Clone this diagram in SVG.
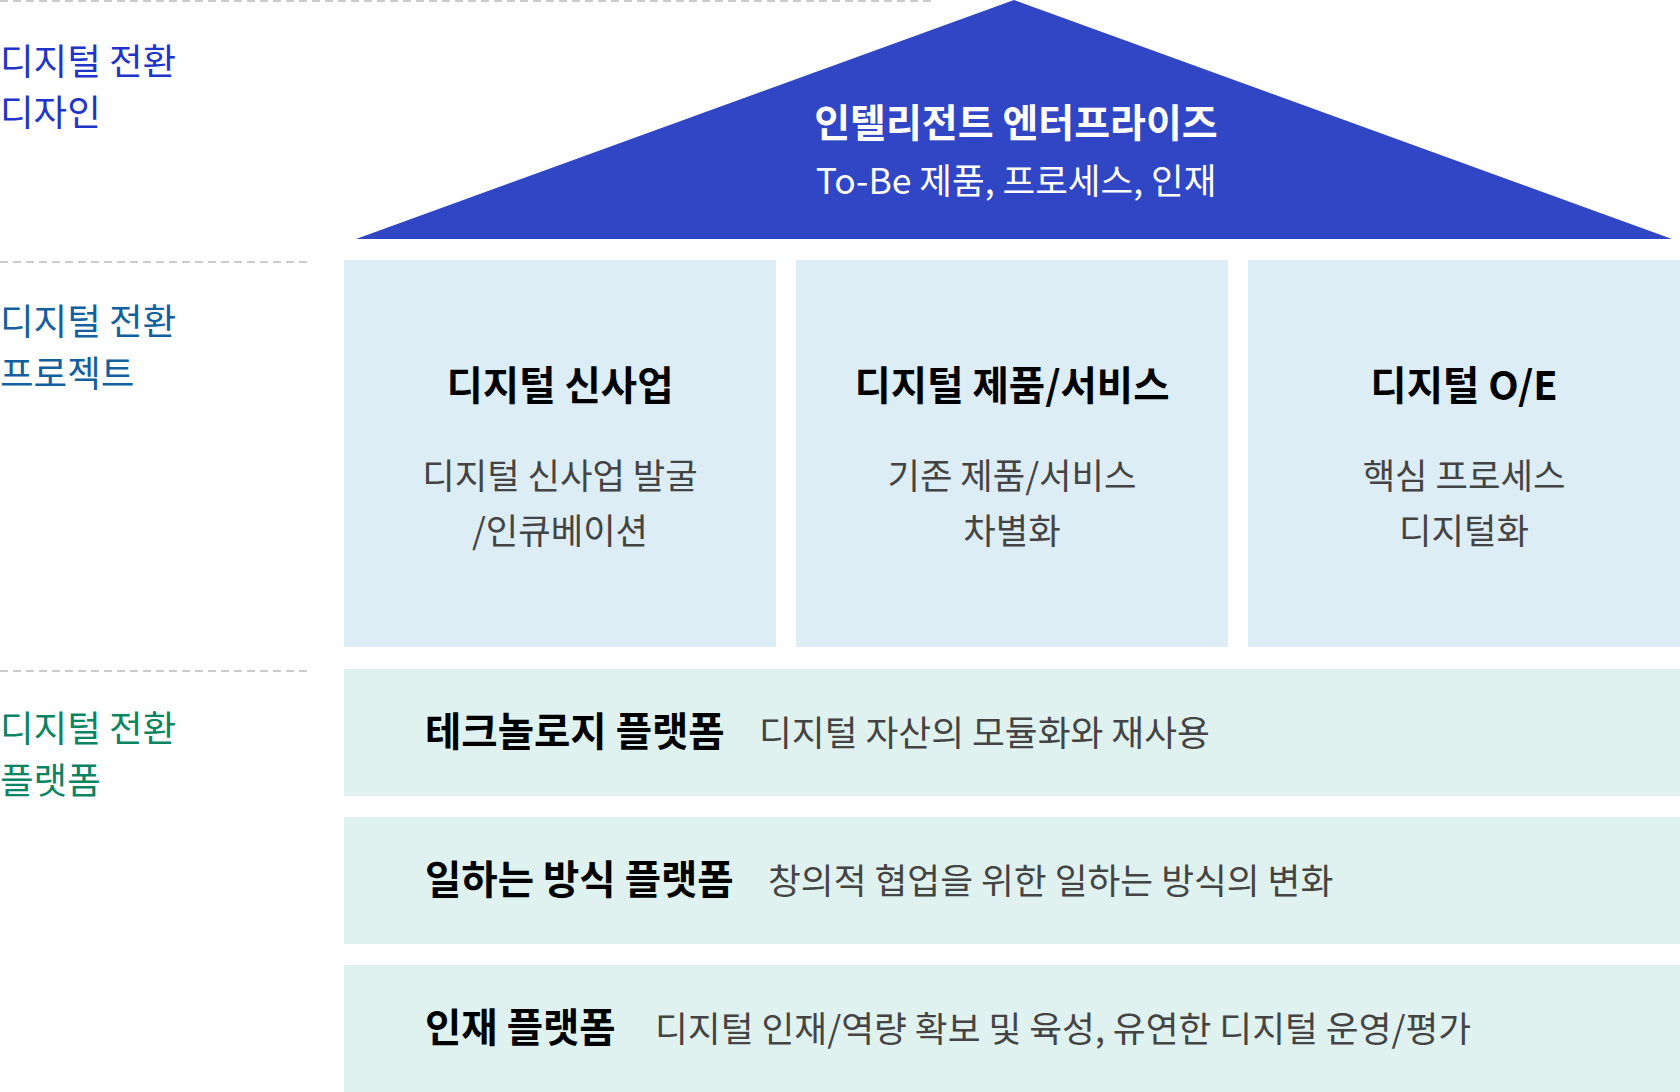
<svg xmlns="http://www.w3.org/2000/svg" width="1680" height="1092" viewBox="0 0 1680 1092">
<style>
text{font-family:"Noto Sans CJK KR","Noto Sans",sans-serif}
.dash{stroke:#cccccc;stroke-width:2;stroke-dasharray:8 5;fill:none}
.lbl{font-size:36.5px}
.l1{fill:#1f35c9}
.l2{fill:#13609e}
.l3{fill:#0b8463}
.box{fill:#ddedf6}
.row{fill:#e0f2ef}
.bt{font-size:39.5px;font-weight:700;fill:#000;text-anchor:middle}
.bs{font-size:35.3px;fill:#444;text-anchor:middle}
.rt{font-size:39.5px;font-weight:700;fill:#000}
.rs{font-size:35.7px;fill:#444}
</style>
<g id="guides">
<line class="dash" x1="0" y1="1" x2="932" y2="1"/>
<line class="dash" x1="0" y1="262" x2="308" y2="262"/>
<line class="dash" x1="0" y1="671" x2="308" y2="671"/>
</g>
<g id="label-design">
<text class="lbl l1" x="0" y="75">디지털 전환</text>
<text class="lbl l1" x="0" y="126">디자인</text>
</g>
<g id="label-project">
<text class="lbl l2" x="0" y="335">디지털 전환</text>
<text class="lbl l2" x="0" y="387">프로젝트</text>
</g>
<g id="label-platform">
<text class="lbl l3" x="0" y="742">디지털 전환</text>
<text class="lbl l3" x="0" y="794">플랫폼</text>
</g>
<g id="roof">
<polygon points="1014,0 1672,239 356,239" fill="#3046c5"/>
<text x="1016" y="137" font-size="39" font-weight="700" fill="#fff" text-anchor="middle">인텔리전트 엔터프라이즈</text>
<text x="1016" y="194" font-size="35.5" fill="#fff" text-anchor="middle">To-Be 제품, 프로세스, 인재</text>
</g>
<g id="box-newbiz">
<rect class="box" x="344" y="260" width="432" height="387"/>
<text class="bt" x="560" y="400">디지털 신사업</text>
<text class="bs" x="560" y="489">디지털 신사업 발굴</text>
<text class="bs" x="560" y="544">/인큐베이션</text>
</g>
<g id="box-product">
<rect class="box" x="796" y="260" width="432" height="387"/>
<text class="bt" x="1012" y="400">디지털 제품/서비스</text>
<text class="bs" x="1012" y="489">기존 제품/서비스</text>
<text class="bs" x="1012" y="544">차별화</text>
</g>
<g id="box-oe">
<rect class="box" x="1248" y="260" width="432" height="387"/>
<text class="bt" x="1464" y="400">디지털 O/E</text>
<text class="bs" x="1464" y="489">핵심 프로세스</text>
<text class="bs" x="1464" y="544">디지털화</text>
</g>
<g id="row-tech">
<rect class="row" x="344" y="669" width="1336" height="127"/>
<text class="rt" x="425" y="746">테크놀로지 플랫폼</text>
<text class="rs" x="759" y="746">디지털 자산의 모듈화와 재사용</text>
</g>
<g id="row-work">
<rect class="row" x="344" y="817" width="1336" height="127"/>
<text class="rt" x="425" y="894">일하는 방식 플랫폼</text>
<text class="rs" x="768" y="894">창의적 협업을 위한 일하는 방식의 변화</text>
</g>
<g id="row-talent">
<rect class="row" x="344" y="965" width="1336" height="127"/>
<text class="rt" x="425" y="1042">인재 플랫폼</text>
<text class="rs" x="655" y="1042" font-size="35.4">디지털 인재/역량 확보 및 육성, 유연한 디지털 운영/평가</text>
</g>
<g id="connectors"></g>
</svg>
